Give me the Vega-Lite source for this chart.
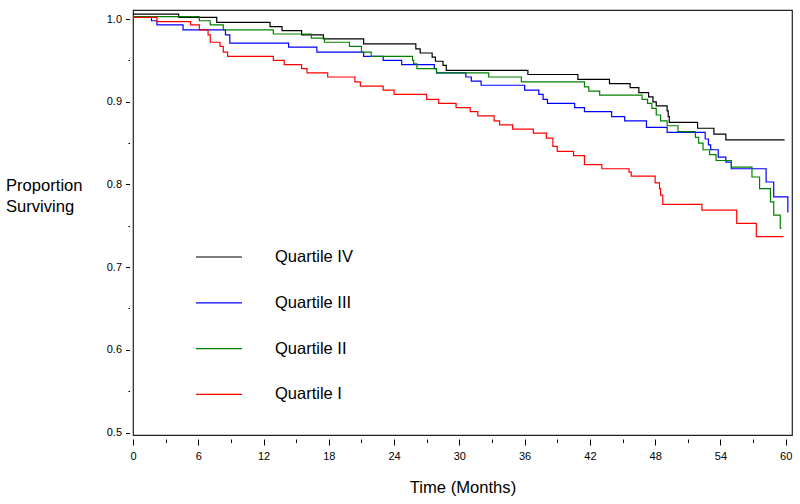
{
  "$schema": "https://vega.github.io/schema/vega-lite/v6.json",
  "width": 659,
  "height": 425,
  "autosize": {"type": "none"},
  "padding": {"left": 133, "top": 10, "right": 8, "bottom": 69},
  "background": "white",
  "config": {
    "font": "Liberation Sans",
    "view": {"stroke": "#222", "strokeWidth": 1.2},
    "axis": {"domain": false, "grid": false, "tickColor": "#000", "labelColor": "#000", "titleColor": "#000", "labelFont": "Liberation Sans", "titleFont": "Liberation Sans", "titleFontWeight": "normal"}
  },
  "data": {"values": [
    {"q":"Quartile IV","t":0,"s":1.006},{"q":"Quartile IV","t":4.2,"s":1.002},{"q":"Quartile IV","t":7.7,"s":0.996},{"q":"Quartile IV","t":12.6,"s":0.991},{"q":"Quartile IV","t":13.7,"s":0.986},{"q":"Quartile IV","t":15.5,"s":0.981},{"q":"Quartile IV","t":17.5,"s":0.976},{"q":"Quartile IV","t":21.2,"s":0.970},{"q":"Quartile IV","t":26.0,"s":0.964},{"q":"Quartile IV","t":26.4,"s":0.959},{"q":"Quartile IV","t":27.5,"s":0.954},{"q":"Quartile IV","t":27.8,"s":0.949},{"q":"Quartile IV","t":28.5,"s":0.944},{"q":"Quartile IV","t":28.8,"s":0.938},{"q":"Quartile IV","t":36.3,"s":0.933},{"q":"Quartile IV","t":40.9,"s":0.927},{"q":"Quartile IV","t":43.8,"s":0.922},{"q":"Quartile IV","t":45.7,"s":0.917},{"q":"Quartile IV","t":46.5,"s":0.911},{"q":"Quartile IV","t":47.4,"s":0.906},{"q":"Quartile IV","t":47.8,"s":0.900},{"q":"Quartile IV","t":48.1,"s":0.895},{"q":"Quartile IV","t":49.1,"s":0.889},{"q":"Quartile IV","t":49.2,"s":0.882},{"q":"Quartile IV","t":49.3,"s":0.875},{"q":"Quartile IV","t":51.9,"s":0.868},{"q":"Quartile IV","t":53.4,"s":0.861},{"q":"Quartile IV","t":54.5,"s":0.854},{"q":"Quartile IV","t":59.9,"s":0.854},
    {"q":"Quartile III","t":0,"s":1.002},{"q":"Quartile III","t":1.7,"s":0.998},{"q":"Quartile III","t":2.2,"s":0.993},{"q":"Quartile III","t":4.6,"s":0.987},{"q":"Quartile III","t":8.5,"s":0.981},{"q":"Quartile III","t":8.9,"s":0.971},{"q":"Quartile III","t":14.3,"s":0.966},{"q":"Quartile III","t":16.9,"s":0.960},{"q":"Quartile III","t":21.2,"s":0.955},{"q":"Quartile III","t":23.0,"s":0.950},{"q":"Quartile III","t":24.7,"s":0.945},{"q":"Quartile III","t":27.7,"s":0.940},{"q":"Quartile III","t":27.9,"s":0.935},{"q":"Quartile III","t":30.6,"s":0.930},{"q":"Quartile III","t":31.1,"s":0.925},{"q":"Quartile III","t":32.0,"s":0.920},{"q":"Quartile III","t":36.0,"s":0.914},{"q":"Quartile III","t":37.3,"s":0.909},{"q":"Quartile III","t":37.7,"s":0.903},{"q":"Quartile III","t":38.1,"s":0.898},{"q":"Quartile III","t":40.6,"s":0.893},{"q":"Quartile III","t":41.5,"s":0.888},{"q":"Quartile III","t":44.0,"s":0.882},{"q":"Quartile III","t":45.2,"s":0.877},{"q":"Quartile III","t":47.2,"s":0.869},{"q":"Quartile III","t":49.1,"s":0.863},{"q":"Quartile III","t":52.6,"s":0.855},{"q":"Quartile III","t":52.9,"s":0.848},{"q":"Quartile III","t":53.1,"s":0.842},{"q":"Quartile III","t":53.8,"s":0.833},{"q":"Quartile III","t":54.5,"s":0.827},{"q":"Quartile III","t":55.0,"s":0.819},{"q":"Quartile III","t":58.2,"s":0.803},{"q":"Quartile III","t":58.9,"s":0.785},{"q":"Quartile III","t":60.2,"s":0.766},
    {"q":"Quartile II","t":0,"s":1.003},{"q":"Quartile II","t":6.1,"s":0.998},{"q":"Quartile II","t":7.1,"s":0.993},{"q":"Quartile II","t":8.3,"s":0.987},{"q":"Quartile II","t":12.9,"s":0.982},{"q":"Quartile II","t":16.4,"s":0.977},{"q":"Quartile II","t":17.6,"s":0.972},{"q":"Quartile II","t":19.9,"s":0.967},{"q":"Quartile II","t":21.0,"s":0.960},{"q":"Quartile II","t":21.9,"s":0.955},{"q":"Quartile II","t":25.7,"s":0.950},{"q":"Quartile II","t":25.8,"s":0.946},{"q":"Quartile II","t":26.1,"s":0.940},{"q":"Quartile II","t":27.9,"s":0.935},{"q":"Quartile II","t":32.7,"s":0.930},{"q":"Quartile II","t":35.7,"s":0.924},{"q":"Quartile II","t":41.5,"s":0.918},{"q":"Quartile II","t":41.9,"s":0.913},{"q":"Quartile II","t":42.9,"s":0.908},{"q":"Quartile II","t":46.8,"s":0.903},{"q":"Quartile II","t":47.3,"s":0.898},{"q":"Quartile II","t":47.7,"s":0.892},{"q":"Quartile II","t":48.1,"s":0.884},{"q":"Quartile II","t":48.5,"s":0.877},{"q":"Quartile II","t":49.1,"s":0.871},{"q":"Quartile II","t":50.1,"s":0.864},{"q":"Quartile II","t":51.7,"s":0.857},{"q":"Quartile II","t":52.0,"s":0.850},{"q":"Quartile II","t":52.4,"s":0.842},{"q":"Quartile II","t":53.0,"s":0.836},{"q":"Quartile II","t":53.6,"s":0.829},{"q":"Quartile II","t":55.0,"s":0.821},{"q":"Quartile II","t":56.9,"s":0.809},{"q":"Quartile II","t":57.6,"s":0.795},{"q":"Quartile II","t":58.6,"s":0.779},{"q":"Quartile II","t":58.9,"s":0.763},{"q":"Quartile II","t":59.5,"s":0.747},{"q":"Quartile II","t":59.6,"s":0.747},
    {"q":"Quartile I","t":0,"s":1.002},{"q":"Quartile I","t":2.2,"s":0.997},{"q":"Quartile I","t":5.3,"s":0.993},{"q":"Quartile I","t":6.1,"s":0.987},{"q":"Quartile I","t":6.9,"s":0.981},{"q":"Quartile I","t":7.1,"s":0.972},{"q":"Quartile I","t":8.0,"s":0.967},{"q":"Quartile I","t":8.3,"s":0.960},{"q":"Quartile I","t":8.7,"s":0.955},{"q":"Quartile I","t":12.9,"s":0.950},{"q":"Quartile I","t":13.9,"s":0.945},{"q":"Quartile I","t":15.5,"s":0.940},{"q":"Quartile I","t":16.0,"s":0.935},{"q":"Quartile I","t":17.9,"s":0.930},{"q":"Quartile I","t":20.4,"s":0.924},{"q":"Quartile I","t":20.9,"s":0.919},{"q":"Quartile I","t":23.0,"s":0.914},{"q":"Quartile I","t":24.0,"s":0.909},{"q":"Quartile I","t":27.0,"s":0.903},{"q":"Quartile I","t":28.1,"s":0.898},{"q":"Quartile I","t":29.7,"s":0.893},{"q":"Quartile I","t":31.0,"s":0.888},{"q":"Quartile I","t":31.7,"s":0.883},{"q":"Quartile I","t":33.2,"s":0.877},{"q":"Quartile I","t":33.7,"s":0.872},{"q":"Quartile I","t":34.9,"s":0.867},{"q":"Quartile I","t":36.8,"s":0.862},{"q":"Quartile I","t":38.0,"s":0.856},{"q":"Quartile I","t":38.6,"s":0.846},{"q":"Quartile I","t":39.0,"s":0.840},{"q":"Quartile I","t":40.5,"s":0.835},{"q":"Quartile I","t":41.5,"s":0.824},{"q":"Quartile I","t":43.1,"s":0.819},{"q":"Quartile I","t":45.6,"s":0.815},{"q":"Quartile I","t":45.8,"s":0.810},{"q":"Quartile I","t":48.0,"s":0.802},{"q":"Quartile I","t":48.4,"s":0.795},{"q":"Quartile I","t":48.5,"s":0.787},{"q":"Quartile I","t":48.7,"s":0.776},{"q":"Quartile I","t":52.3,"s":0.769},{"q":"Quartile I","t":55.5,"s":0.753},{"q":"Quartile I","t":57.3,"s":0.737},{"q":"Quartile I","t":59.8,"s":0.737}
  ]},
  "mark": {"type": "line", "interpolate": "step-after", "strokeWidth": 1.2, "clip": false},
  "encoding": {
    "x": {
      "field": "t", "type": "quantitative",
      "scale": {"domain": [0, 60.58], "nice": false, "zero": false},
      "axis": {
        "title": "Time (Months)", "titleFontSize": 16.6, "titlePadding": 18,
        "values": [0,3,6,9,12,15,18,21,24,27,30,33,36,39,42,45,48,51,54,57,60],
        "labelExpr": "datum.value % 6 === 0 ? datum.label : ''",
        "labelFontSize": 11, "labelPadding": 5, "offset": 4,
        "tickSize": {"condition": {"test": "datum.value % 6 === 0", "value": 6}, "value": 3.5},
        "tickWidth": 1, "labelFlush": false, "labelOverlap": false
      }
    },
    "y": {
      "field": "s", "type": "quantitative",
      "scale": {"domain": [0.497, 1.011], "nice": false, "zero": false},
      "axis": {
        "title": ["Proportion", "Surviving"], "titleAngle": 0, "titleAlign": "left", "titleBaseline": "top",
        "titleX": -124, "titleY": 167, "titleFontSize": 16.6, "titleLineHeight": 21,
        "values": [0.5,0.55,0.6,0.65,0.7,0.75,0.8,0.85,0.9,0.95,1.0],
        "format": ".1f",
        "labelExpr": "abs(datum.value*10 - round(datum.value*10)) < 0.01 ? datum.label : ''",
        "labelFontSize": 11, "labelPadding": 4, "offset": 3.5,
        "tickSize": {"condition": {"test": "abs(datum.value*10 - round(datum.value*10)) < 0.01", "value": 4}, "value": 1.5},
        "tickWidth": 1, "labelOverlap": false
      }
    },
    "color": {
      "field": "q", "type": "nominal",
      "scale": {"domain": ["Quartile IV", "Quartile III", "Quartile II", "Quartile I"], "range": ["#000000", "#0000ff", "#008000", "#ff0000"]},
      "legend": {
        "orient": "none", "legendX": 62, "legendY": 223, "title": null,
        "symbolType": "stroke", "symbolSize": 2116, "symbolStrokeWidth": 1.2,
        "labelFontSize": 16.5, "labelFont": "Liberation Sans", "labelColor": "#000", "labelOffset": 32,
        "rowPadding": 12.8, "padding": 0
      }
    }
  }
}
